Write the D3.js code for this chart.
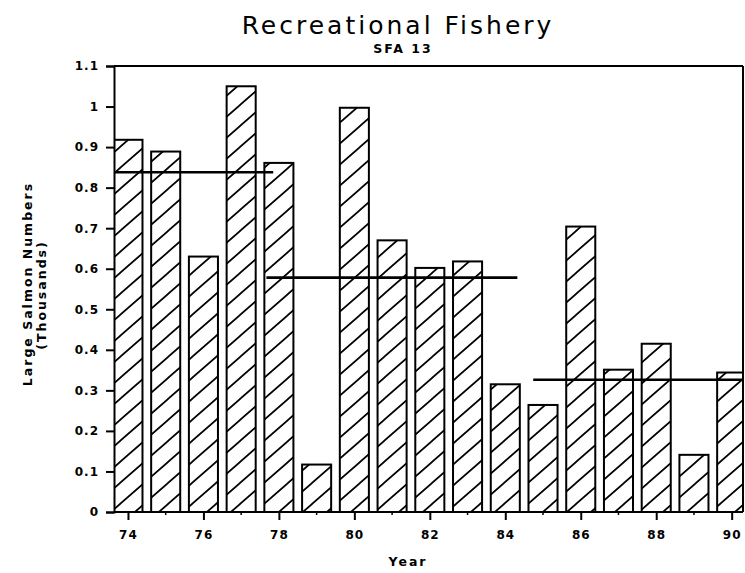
<!DOCTYPE html>
<html>
<head>
<meta charset="utf-8">
<script src="https://cdn.jsdelivr.net/npm/d3@7"></script>
<style>
  html, body { margin: 0; padding: 0; background: #fff; }
  svg { display: block; }
  .tick-label { font-family: "DejaVu Sans", sans-serif; font-weight: bold; font-size: 12px; letter-spacing: 1px; fill: #000; }
  .axis-title { font-family: "DejaVu Sans", sans-serif; font-weight: bold; font-size: 12.5px; letter-spacing: 2px; fill: #000; }
</style>
</head>
<body>
<div id="chart"></div>
<script>
// chart data
const years = [74, 75, 76, 77, 78, 79, 80, 81, 82, 83, 84, 85, 86, 87, 88, 89, 90];
const catches = [0.918, 0.889, 0.630, 1.050, 0.861, 0.117, 0.997, 0.670, 0.602, 0.618, 0.315, 0.264, 0.704, 0.351, 0.415, 0.141, 0.344];

// period means (drawn as horizontal lines)
const meanStart = [73.63, 77.67, 84.74];
const meanEnd = [77.85, 84.32, 90.3];
const meanValue = [0.838, 0.578, 0.326];

const yTicks = [0, 0.1, 0.2, 0.3, 0.4, 0.5, 0.6, 0.7, 0.8, 0.9, 1, 1.1];
const xLabels = [74, 76, 78, 80, 82, 84, 86, 88, 90];

const width = 745, height = 573;
const margin = { top: 66, right: 2, bottom: 61, left: 114 };

const svg = d3.select('#chart').append('svg')
    .attr('width', width)
    .attr('height', height);

const x = d3.scaleLinear().domain([73.63, 90.3]).range([margin.left, width - margin.right]);
const y = d3.scaleLinear().domain([0, 1.1]).range([height - margin.bottom, margin.top]);

const barW = x(0.77) - x(0);

// hatch pattern ("/" lines)
const defs = svg.append('defs');
const pw = 24, ph = 21;
const pat = defs.append('pattern')
    .attr('id', 'hatch')
    .attr('patternUnits', 'userSpaceOnUse')
    .attr('width', pw)
    .attr('height', ph);
pat.append('rect').attr('width', pw).attr('height', ph).attr('fill', '#fff');
pat.append('path')
    .attr('d', [-pw, 0, pw].map((s) => `M${s - pw},${2 * ph} L${s + 2 * pw},${-ph}`).join(' '))
    .attr('stroke', '#000')
    .attr('stroke-width', 1.7);

defs.append('clipPath').attr('id', 'plotClip')
    .append('rect')
    .attr('x', margin.left)
    .attr('y', margin.top - 2)
    .attr('width', width - margin.right - margin.left)
    .attr('height', height - margin.bottom - margin.top + 4);

const plot = svg.append('g').attr('clip-path', 'url(#plotClip)');

// bars
plot.selectAll('rect.bar')
    .data(years)
    .enter().append('rect')
    .attr('class', 'bar')
    .attr('x', (d) => x(d) - barW / 2)
    .attr('y', (d, i) => y(catches[i]))
    .attr('width', barW)
    .attr('height', (d, i) => y(0) - y(catches[i]))
    .attr('fill', 'url(#hatch)')
    .attr('stroke', '#000')
    .attr('stroke-width', 2);

// mean lines
plot.selectAll('line.mean')
    .data(meanValue)
    .enter().append('line')
    .attr('class', 'mean')
    .attr('x1', (d, i) => x(meanStart[i]))
    .attr('x2', (d, i) => x(meanEnd[i]))
    .attr('y1', (d) => y(d))
    .attr('y2', (d) => y(d))
    .attr('stroke', '#000')
    .attr('stroke-width', 2.6);

// frame: top and right borders
svg.append('line')
    .attr('x1', margin.left).attr('x2', width - margin.right)
    .attr('y1', margin.top).attr('y2', margin.top)
    .attr('stroke', '#000').attr('stroke-width', 2);
svg.append('line')
    .attr('x1', width - margin.right).attr('x2', width - margin.right)
    .attr('y1', margin.top).attr('y2', height - margin.bottom)
    .attr('stroke', '#000').attr('stroke-width', 2);

// y axis
const yAxis = svg.append('g')
    .attr('transform', `translate(${margin.left},0)`)
    .call(d3.axisLeft(y).tickValues(yTicks).tickFormat(d3.format('~g')).tickSize(8).tickPadding(7));
yAxis.select('.domain').attr('stroke-width', 2);
yAxis.selectAll('.tick line').attr('stroke-width', 2);
yAxis.selectAll('.tick text').attr('class', 'tick-label').attr('font-family', null).attr('font-size', null);

// x axis: major ticks at even years, minor at odd
const xAxis = svg.append('g')
    .attr('transform', `translate(0,${y(0)})`)
    .call(d3.axisBottom(x).tickValues(xLabels).tickFormat(d3.format('d')).tickSize(8).tickPadding(10));
xAxis.select('.domain').attr('d', `M${margin.left},0H${width - margin.right}`).attr('stroke-width', 2);
xAxis.selectAll('.tick line').attr('stroke-width', 2);
xAxis.selectAll('.tick text').attr('class', 'tick-label').attr('font-family', null).attr('font-size', null);

svg.append('g')
    .selectAll('line')
    .data(years.filter((d) => d % 2 === 1))
    .enter().append('line')
    .attr('x1', (d) => x(d)).attr('x2', (d) => x(d))
    .attr('y1', y(0)).attr('y2', y(0) + 3)
    .attr('stroke', '#000').attr('stroke-width', 1.5);

// titles
svg.append('text')
    .attr('x', 398).attr('y', 34)
    .attr('text-anchor', 'middle')
    .attr('font-family', '"DejaVu Sans", sans-serif')
    .attr('font-size', 25)
    .attr('letter-spacing', 3)
    .text('Recreational Fishery');

svg.append('text')
    .attr('x', 403).attr('y', 53)
    .attr('text-anchor', 'middle')
    .attr('class', 'axis-title')
    .text('SFA 13');

svg.append('text')
    .attr('x', 408).attr('y', 566)
    .attr('text-anchor', 'middle')
    .attr('class', 'axis-title')
    .text('Year');

svg.append('text')
    .attr('transform', 'translate(32,284) rotate(-90)')
    .attr('text-anchor', 'middle')
    .attr('class', 'axis-title')
    .text('Large Salmon Numbers');
svg.append('text')
    .attr('transform', 'translate(46,295) rotate(-90)')
    .attr('text-anchor', 'middle')
    .attr('class', 'axis-title')
    .text('(Thousands)');
</script>
</body>
</html>
